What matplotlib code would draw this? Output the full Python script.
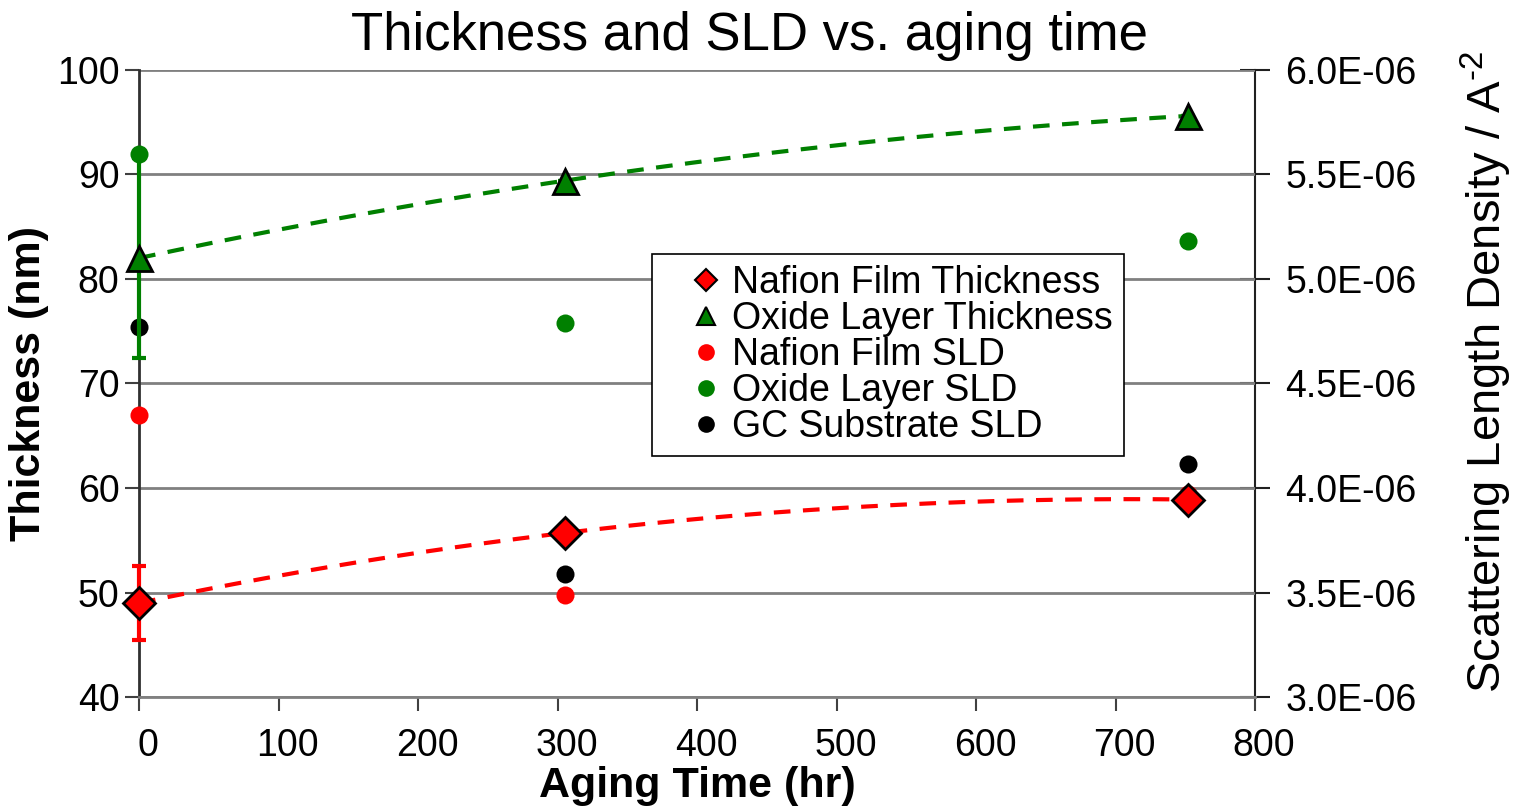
import matplotlib
matplotlib.use('Agg')
import matplotlib.pyplot as plt
import matplotlib.transforms as mtransforms
from matplotlib.ticker import FuncFormatter, MultipleLocator
import numpy as np

plt.rcParams['font.family'] = ['Liberation Sans', 'DejaVu Sans']
plt.rcParams['mathtext.fontset'] = 'custom'
plt.rcParams['mathtext.rm'] = 'Liberation Sans'

# aging time (hr)
hours = [0, 305, 752]

# thickness (nm), left axis
nafion_thick = [49.0, 55.7, 58.9]
nafion_thick_err = [3.5, 0, 0]
oxide_thick = [82.0, 89.4, 95.6]
oxide_thick_err = [9.6, 0, 0]

# SLD (A^-2), right axis
nafion_sld = [4.35e-6, 3.49e-6, 3.97e-6]
oxide_sld = [5.60e-6, 4.79e-6, 5.18e-6]
gc_sld = [4.77e-6, 3.59e-6, 4.115e-6]

fig = plt.figure(figsize=(15.13, 8.11), dpi=100)
ax = fig.add_axes([0.0919, 0.1405, 0.7376, 0.7733])
ax2 = ax.twinx()

ax.set_zorder(ax2.get_zorder() + 1)
ax.patch.set_visible(False)

# horizontal gridlines
ax.grid(True, axis='y', color='#808080', lw=2)
ax.set_axisbelow(True)

# trendlines (2nd order polynomial)
xs = np.linspace(min(hours), max(hours), 200)
ax.plot(xs, np.polyval(np.polyfit(hours, nafion_thick, 2), xs), color='#ff0000',
        lw=3, dashes=(4, 3), zorder=2)
ax.plot(xs, np.polyval(np.polyfit(hours, oxide_thick, 2), xs), color='#008000',
        lw=3, dashes=(4, 3), zorder=2)

# right axis range; SLD points mapped onto left axis so they sit with the other marks
sld_lo, sld_hi = 3.0e-6, 6.0e-6
ax2.set_ylim(sld_lo, sld_hi)

def to_left(v):
    return 40 + (np.asarray(v) - sld_lo) / (sld_hi - sld_lo) * 60

ax.plot(hours, to_left(oxide_sld), 'o', color='#008000', ms=13, mec='none', zorder=3, clip_on=False)
ax.plot(hours, to_left(nafion_sld), 'o', color='#ff0000', ms=13, mec='none', zorder=3, clip_on=False)
ax.plot(hours, to_left(gc_sld), 'o', color='#000000', ms=13, mec='none', zorder=3, clip_on=False)

# thickness points with error bars
for vals, err, col in [(oxide_thick, oxide_thick_err, '#008000'),
                       (nafion_thick, nafion_thick_err, '#ff0000')]:
    eb = ax.errorbar(hours, vals, yerr=err, fmt='none', ecolor=col,
                     elinewidth=3, capsize=5, capthick=3, zorder=4)
    for child in eb.get_children():
        child.set_clip_on(False)
ax.plot(hours, nafion_thick, 'D', color='#ff0000', mec='black', mew=2, ms=16, zorder=5, clip_on=False)
ax.plot(hours, oxide_thick, '^', color='#008000', mec='black', mew=2, ms=18, zorder=5, clip_on=False)

# legend proxies
h1, = ax.plot([], [], 'D', color='#ff0000', mec='black', mew=1.5, ms=11)
h2, = ax.plot([], [], '^', color='#008000', mec='black', mew=1.5, ms=13)
h3, = ax.plot([], [], 'o', color='#ff0000', ms=12, mec='none')
h4, = ax.plot([], [], 'o', color='#008000', ms=12, mec='none')
h5, = ax.plot([], [], 'o', color='#000000', ms=12, mec='none')
leg = ax.legend([h1, h2, h3, h4, h5],
                ['Nafion Film Thickness', 'Oxide Layer Thickness', 'Nafion Film SLD',
                 'Oxide Layer SLD', 'GC Substrate SLD'],
                loc='upper left', bbox_to_anchor=(0.460, 0.707), borderaxespad=0,
                fontsize=27, frameon=True, fancybox=False, edgecolor='black',
                framealpha=1, handletextpad=-0.45, labelspacing=0.0, borderpad=0.3,
                handlelength=2.28)
leg.get_frame().set_linewidth(1.2)

ax.set_xlim(0, 800)
ax.set_ylim(40, 100)
ax.xaxis.set_major_locator(MultipleLocator(100))
ax.yaxis.set_major_locator(MultipleLocator(10))
ax2.yaxis.set_major_locator(MultipleLocator(0.5e-6))
ax2.yaxis.set_major_formatter(FuncFormatter(lambda v, _: f"{v / 1e-6:.1f}E-06"))

for a in (ax, ax2):
    for s in a.spines.values():
        s.set_visible(False)
ax.spines['left'].set_visible(True)
ax.spines['left'].set_color('#303030')
ax.spines['left'].set_linewidth(2)
ax.spines['bottom'].set_visible(True)
ax.spines['bottom'].set_color('#808080')
ax.spines['bottom'].set_linewidth(2)
ax2.spines['right'].set_visible(True)
ax2.spines['right'].set_color('#202020')
ax2.spines['right'].set_linewidth(1.5)

ax.tick_params(axis='both', labelsize=27, direction='out', length=10, width=1.5, color='#404040')
ax.tick_params(axis='x', pad=12)
ax.tick_params(axis='y', pad=4)
ax2.tick_params(axis='y', labelsize=27, direction='inout', length=22, width=1.5,
                color='#202020', pad=11)

offset = mtransforms.ScaledTranslation(9 / 100, 0, fig.dpi_scale_trans)
for lbl in ax.get_xticklabels():
    lbl.set_transform(lbl.get_transform() + offset)

ax.set_xlabel('Aging Time (hr)', fontsize=31, fontweight='bold', labelpad=2)
ax.set_ylabel('Thickness (nm)', fontsize=31, fontweight='bold', labelpad=6)
ax2.set_ylabel(r'Scattering Length Density / A$^{\text{-2}}$', fontsize=34)
ax2.yaxis.set_label_coords(1.1826, 0.518)
ax.set_title('Thickness and SLD vs. aging time', fontsize=38, pad=14, x=0.547)

fig.savefig('out.png', dpi=100)
